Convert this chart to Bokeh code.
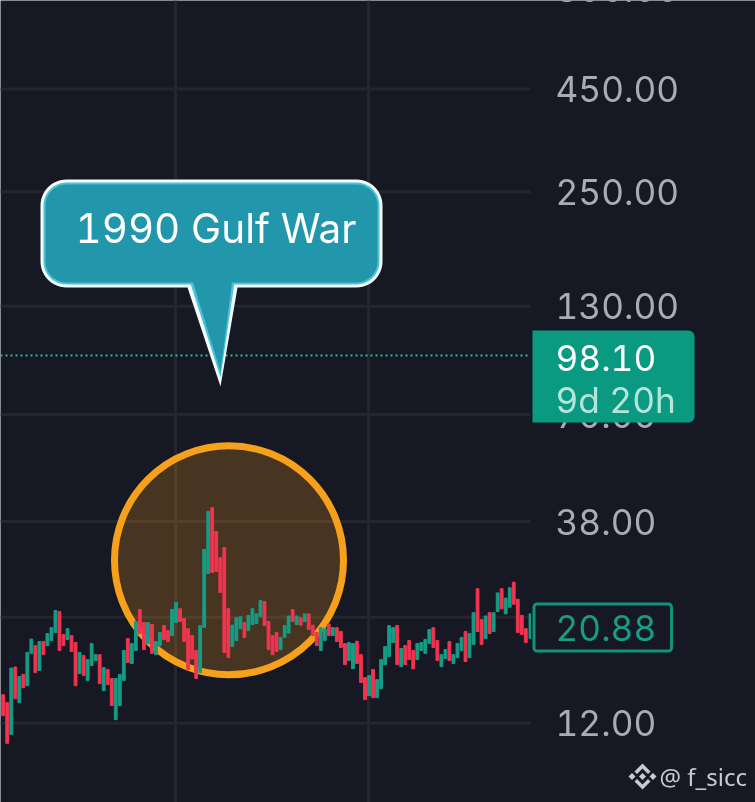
import numpy as np
from bokeh.plotting import figure
from bokeh.core.properties import value
from bokeh.embed import file_html
from bokeh.resources import INLINE
from bokeh.models import (BoxAnnotation, ColumnDataSource, FixedTicker, Grid, Label,
                          PolyAnnotation, Range1d)

# --- data -----------------------------------------------------------------------
opens = [14.13,13.50,11.25,16.55,13.50,15.86,14.87,17.89,18.70,16.22,19.14,18.70,19.25,20.15,22.72,19.92,
         19.36,19.80,19.03,15.95,17.67,15.31,16.68,17.17,17.76,14.46,16.31,15.50,12.25,13.27,15.31,19.47,
         16.88,18.18,22.98,21.34,18.90,21.09,17.76,18.70,20.97,20.38,19.80,21.34,23.09,21.83,20.60,19.80,
         18.18,16.03,20.75,28.24,41.15,35.90,30.90,32.76,23.10,18.60,19.25,20.60,21.34,20.38,21.09,21.22,
         22.05,24.05,21.46,19.80,20.15,18.28,19.60,20.08,22.98,21.09,21.93,21.46,22.42,21.02,20.15,18.18,
         19.25,21.15,19.80,20.72,20.27,18.92,17.17,16.39,19.18,17.76,15.58,14.05,16.31,13.89,14.62,16.78,
         17.57,19.03,20.97,16.58,18.70,19.25,18.18,17.27,18.18,17.89,18.92,20.72,19.25,16.58,17.37,19.14,
         16.88,17.46,18.18,20.27,17.46,18.82,25.89,21.70,19.47,22.57,20.27,22.72,25.89,22.42,23.28,26.87,
         24.37,22.22,20.60,19.47]
closes = [12.53,10.70,16.45,13.80,15.67,14.70,17.98,19.41,16.03,19.14,17.76,20.03,20.72,22.85,18.18,18.70,
          20.60,18.08,14.87,17.98,15.76,17.27,18.92,17.76,15.05,16.49,14.96,13.27,15.50,15.86,18.18,16.97,
          18.92,21.46,20.00,18.28,21.34,17.89,19.14,20.15,19.36,19.14,22.98,23.92,21.46,19.14,16.31,17.33,
          15.50,20.97,32.38,40.25,28.41,28.56,25.33,17.98,17.48,21.02,21.93,22.05,19.58,22.22,23.09,22.42,
          24.19,20.97,18.28,17.76,18.08,19.58,20.97,22.15,21.46,22.15,21.02,22.42,20.50,19.80,18.70,20.72,
          20.60,19.80,20.72,19.14,18.50,16.78,19.03,18.92,16.88,15.15,13.74,15.76,13.89,15.40,17.27,18.60,
          20.97,20.72,16.78,18.39,16.78,17.27,16.38,18.92,19.03,19.36,20.50,18.50,17.17,17.76,18.28,17.17,
          17.76,18.92,19.58,17.07,20.03,22.57,20.27,18.82,22.15,20.03,22.57,25.27,23.09,24.53,26.03,23.68,
          20.15,19.92,19.03,22.42]
price_ticks = [450, 250, 130, 70, 38, 12]
grid_ticks = [450, 250, 130, 70, 38, 22, 12]
time_lines = [42.86, 90.87]
last_price = 98.10
close_price = 20.88
event_bar = 56.17
event_price = 30.45
top_tick = "800.00"
callout_text = "1990 Gulf War"
countdown = "9d 20h"
credit = "@ f_sicc"

BG = "#161823"
GRID = "#24262f"
UP = "#169c85"
DOWN = "#f1344f"
LABEL = "#a9abb6"
FONT = "Inter"
FS = "35.2px"

X_START, X_END = -0.672, 187.14
PANE_END = 131.17    # bars, grid and dotted line stop here; the price labels live to the right
LABEL_X = 137.4

n = len(opens)
source = ColumnDataSource(dict(
    x=list(range(n)),
    top=[max(a, b) for a, b in zip(opens, closes)],
    bottom=[min(a, b) for a, b in zip(opens, closes)],
    color=[UP if c >= o else DOWN for o, c in zip(opens, closes)],
    width=[0.7] * (n - 1) + [0.36],
))

p = figure(width=755, height=802, output_backend="svg", toolbar_location=None,
           y_axis_type="log", y_axis_location=None, x_axis_location=None,
           x_range=Range1d(X_START, X_END), y_range=Range1d(7.63, 746),
           min_border_left=0, min_border_top=0, min_border_bottom=0, min_border_right=0,
           background_fill_color=BG, border_fill_color=BG)
p.outline_line_color = None
p.styles = {"position": "fixed", "left": "0px", "top": "0px", "font-variant-numeric": "tabular-nums"}
p.grid.visible = False

p.segment([X_START] * len(grid_ticks), grid_ticks, [PANE_END] * len(grid_ticks), grid_ticks,
          line_color=GRID, line_width=3)
p.add_layout(Grid(dimension=0, ticker=FixedTicker(ticks=time_lines), grid_line_color=GRID, grid_line_width=3))
p.segment([X_START], [last_price], [PANE_END], [last_price], line_color="#35b8a4", line_width=2, line_dash="2 3")

# event circle sits under the bars
p.scatter([event_bar], [event_price], marker="circle", size=229, fill_color="#f7a01c", fill_alpha=0.22,
          line_color="#f7a01c", line_width=7)
p.vbar(x="x", top="top", bottom="bottom", width="width", color="color", source=source)

p.text([LABEL_X] * len(price_ticks), price_ticks, text=[f"{t:.2f}" for t in price_ticks],
       text_color=LABEL, text_font=value(FONT), text_font_size=FS, text_baseline="middle", text_align="left")


def box(l, r, t, b, **kw):
    p.add_layout(BoxAnnotation(left=l, right=r, top=t, bottom=b, left_units="canvas", right_units="canvas",
                               top_units="canvas", bottom_units="canvas", **kw))


def callout(d):
    l, r, t, b = 40 + d, 382 - d, 179 + d, 287 - d
    rad = max(26 - d, 1)
    xs, ys = [], []
    for cx, cy, a0 in [(r - rad, t + rad, -90), (r - rad, b - rad, 0), (l + rad, b - rad, 90), (l + rad, t + rad, 180)]:
        if a0 == 90:
            # tail sits on the bottom edge before the lower-left corner
            xs += [237 - d * 1.1, 220, 187 + d * 1.1]
            ys += [b, 386 - d * 3.0, b]
        ang = np.radians(np.linspace(a0, a0 + 90, 14))
        xs += list(cx + rad * np.cos(ang))
        ys += list(cy + rad * np.sin(ang))
    return xs, ys


for d, col in [(0, "#f4fbfc"), (3, "#4cc3d6"), (5, "#2296aa")]:
    xs, ys = callout(d)
    p.add_layout(PolyAnnotation(xs=xs, ys=ys, xs_units="canvas", ys_units="canvas", fill_color=col, fill_alpha=1,
                                line_color=None))

box(532, 694, 330, 422, fill_color="#0a9a82", fill_alpha=1, line_color=None, border_radius=(0, 6, 6, 0))
box(533.5, 671, 603.5, 650.5, fill_color=BG, fill_alpha=1, line_color="#12917d", line_alpha=1, line_width=3,
    border_radius=3)


def text(s, x, y, color, size=FS, font=FONT):
    p.add_layout(Label(x=x, y=y, x_units="canvas", y_units="canvas", text=s, text_color=color, text_font=font,
                       text_font_size=size, text_baseline="middle", text_align="left"))


text(callout_text, 75, 228, "#ffffff", "40.4px")
text(f"{last_price:.2f}", 555, 357, "#ffffff")
text(countdown, 555, 399, "#b5e5da")
text(f"{close_price:.2f}", 555, 627, "#179c86")
text(top_tick, 555, -12, LABEL)
text(credit, 659, 776, "#c9cad0", "24px", "Noto Sans")

# exchange logo beside the credit
cx, cy = 642, 776
pieces = [
    [(-3.5, 0), (0, -3.5), (3.5, 0), (0, 3.5)],
    [(-14, 0), (-10.5, -3.5), (-7, 0), (-10.5, 3.5)],
    [(14, 0), (10.5, -3.5), (7, 0), (10.5, 3.5)],
    [(0, -13), (8, -5), (5.5, -2.5), (0, -8), (-5.5, -2.5), (-8, -5)],
    [(0, 13), (8, 5), (5.5, 2.5), (0, 8), (-5.5, 2.5), (-8, 5)],
]
for piece in pieces:
    p.add_layout(PolyAnnotation(xs=[cx + q[0] for q in piece], ys=[cy + q[1] for q in piece],
                                xs_units="canvas", ys_units="canvas", fill_color="#c9cad0", fill_alpha=1,
                                line_color=None))

open("out.html", "w").write(file_html(p, INLINE))
